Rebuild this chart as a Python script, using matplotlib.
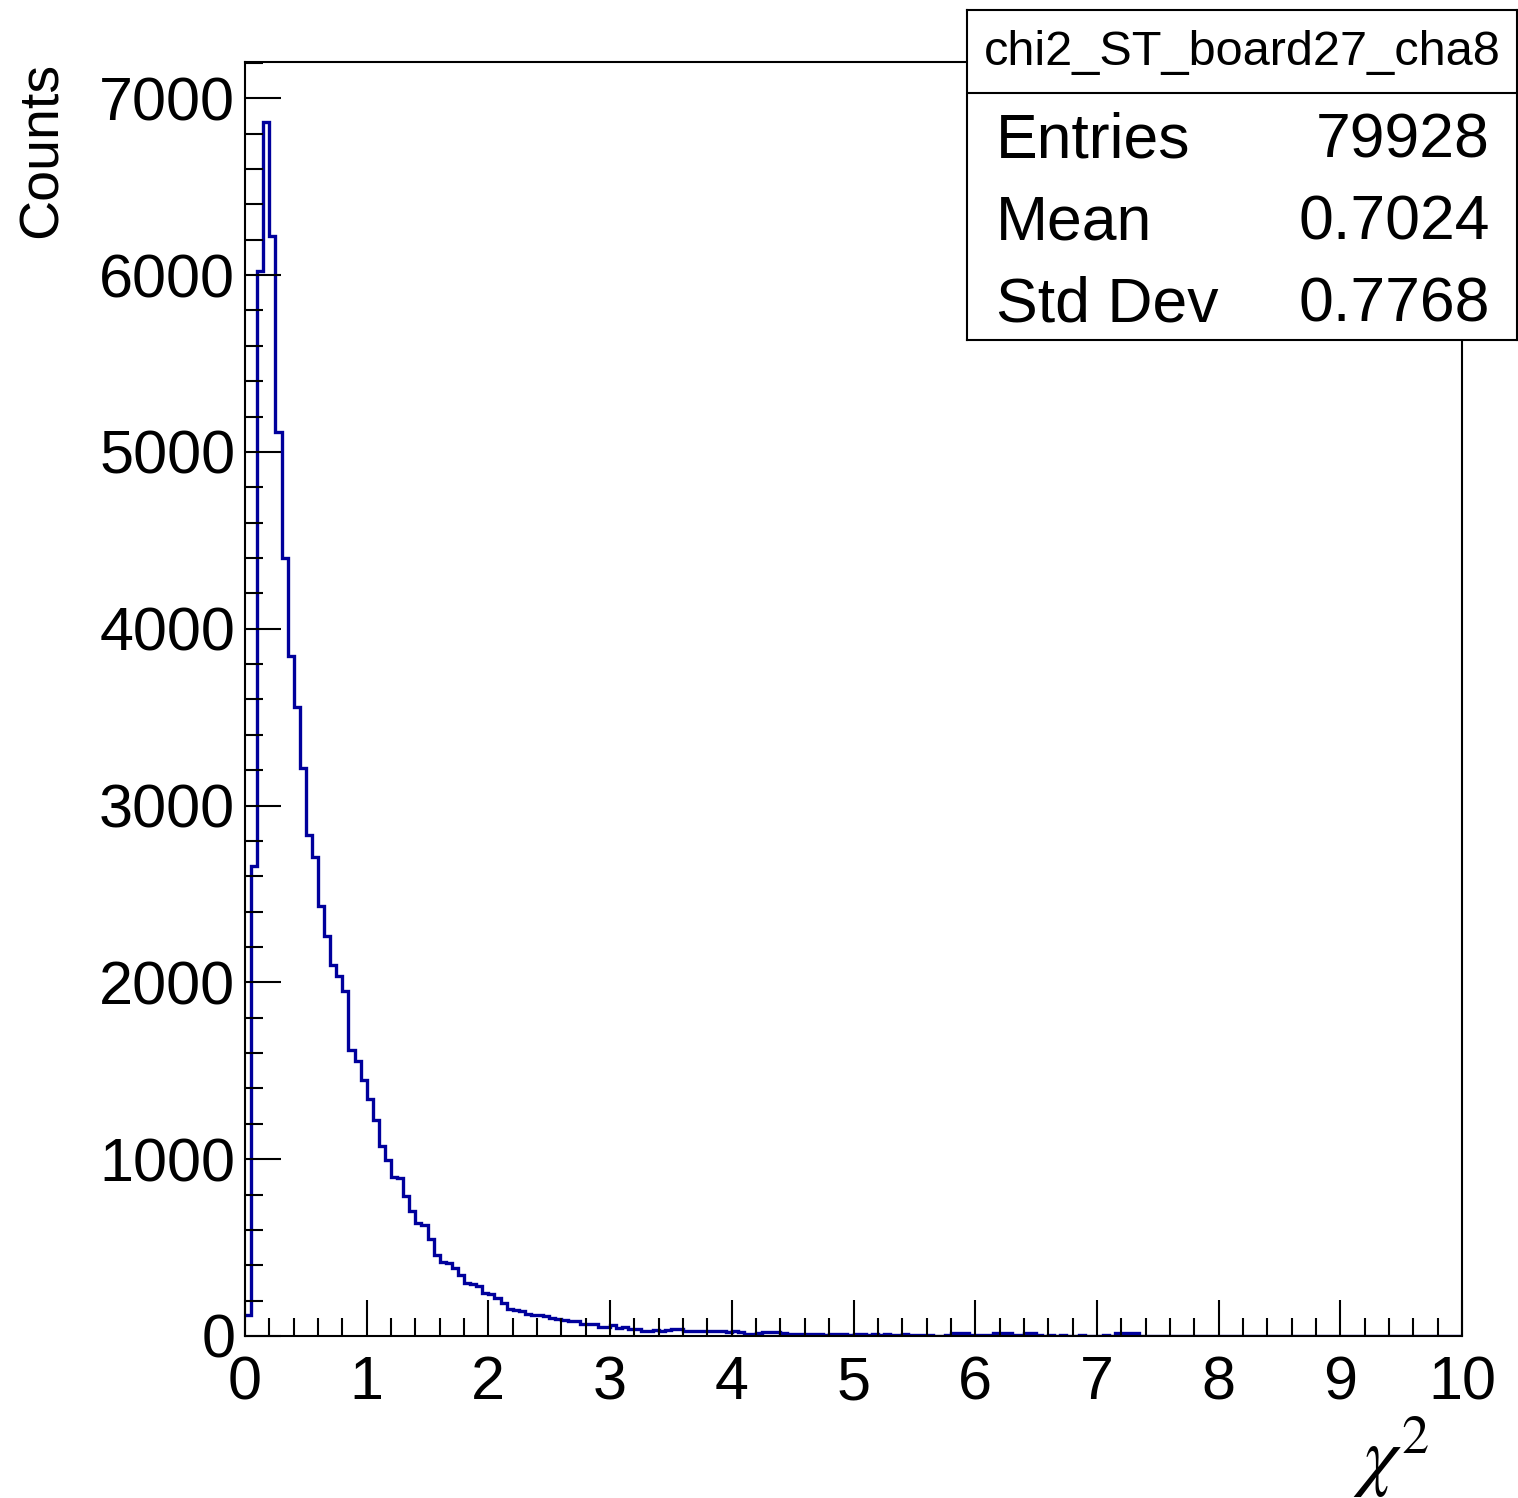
import numpy as np
import matplotlib
matplotlib.use("Agg")
import matplotlib.pyplot as plt
from matplotlib.ticker import MultipleLocator

plt.rcParams['font.family'] = ['Liberation Sans', 'DejaVu Sans']
plt.rcParams['mathtext.fontset'] = 'stix'

# histogram chi2_ST_board27_cha8 : 200 bins from 0 to 10
x_min = 0.0
x_max = 10.0
counts = [
    119, 2656, 6024, 6864, 6222, 5115, 4398, 3845, 3559, 3213,
    2832, 2709, 2430, 2264, 2100, 2034, 1949, 1619, 1553, 1449,
    1342, 1223, 1077, 996, 902, 895, 789, 709, 641, 628,
    547, 458, 421, 415, 383, 345, 298, 295, 283, 242,
    240, 213, 185, 152, 148, 142, 122, 119, 117, 114,
    102, 97, 88, 86, 83, 70, 68, 66, 53, 50,
    60, 46, 50, 38, 38, 27, 27, 36, 31, 36,
    40, 38, 30, 30, 31, 29, 27, 29, 27, 25,
    26, 24, 14, 13, 15, 24, 21, 23, 19, 12,
    10, 11, 9, 10, 12, 8, 10, 9, 11, 8,
    10, 9, 7, 10, 8, 9, 7, 8, 10, 6,
    8, 7, 6, 0, 0, 4, 16, 18, 15, 4,
    4, 6, 3, 17, 19, 16, 5, 5, 18, 19,
    3, 2, 4, 2, 3, 1, 2, 3, 2, 1,
    2, 3, 2, 18, 19, 18, 16, 2, 1, 0,
    2, 1, 0, 1, 2, 0, 1, 0, 0, 1,
    0, 2, 0, 1, 0, 0, 1, 0, 0, 0,
    1, 0, 0, 0, 1, 0, 0, 0, 0, 1,
    0, 0, 0, 0, 0, 1, 0, 0, 0, 0,
    0, 0, 1, 0, 0, 0, 0, 0, 0, 0,
]
hist_name = "chi2_ST_board27_cha8"
stat_labels = ["Entries", "Mean", "Std Dev"]
stat_values = ["79928", "0.7024", "0.7768"]

W, H = 1518, 1498
fig = plt.figure(figsize=(W / 100, H / 100), dpi=100)
ax = fig.add_axes([245 / W, 1 - 1336 / H, (1462 - 245) / W, (1336 - 62) / H])

edges = np.linspace(x_min, x_max, len(counts) + 1)
ax.stairs(counts, edges, color='#00009c', lw=2.4, baseline=None)

ax.set_xlim(x_min, x_max)
ax.set_ylim(0, 7205)
ax.xaxis.set_major_locator(MultipleLocator(1))
ax.xaxis.set_minor_locator(MultipleLocator(0.2))
ax.yaxis.set_major_locator(MultipleLocator(1000))
ax.yaxis.set_minor_locator(MultipleLocator(200))
ax.tick_params(which='both', direction='in', width=1.5, colors='black')
ax.tick_params(which='major', length=26)
ax.tick_params(which='minor', length=13)
ax.tick_params(axis='x', which='major', labelsize=44, pad=14)
ax.tick_params(axis='y', which='major', labelsize=44, pad=7)
for s in ax.spines.values():
    s.set_linewidth(1.5)

fig.text(43 / W, 1 - 62 / H, "Counts", rotation=90, ha='center', va='top', fontsize=40)
fig.text(1430 / W, 1 - 1482 / H, r"$\chi^{2}$", ha='right', va='baseline', fontsize=56)

# stats box
bx0, by0, bx1, by1 = 967, 10, 1517, 340
sb = fig.add_axes([bx0 / W, 1 - by1 / H, (bx1 - bx0) / W, (by1 - by0) / H])
sb.set_xlim(bx0, bx1)
sb.set_ylim(by1, by0)
sb.set_xticks([])
sb.set_yticks([])
for s in sb.spines.values():
    s.set_linewidth(1.5)
sb.axhline(93, color='black', lw=1.5)
sb.text((bx0 + bx1) / 2, 52, hist_name, ha='center', va='center', fontsize=35)
for i, (lab, val) in enumerate(zip(stat_labels, stat_values)):
    yb = 158 + i * 82
    sb.text(996, yb, lab, ha='left', va='baseline', fontsize=45)
    sb.text(1490, yb, val, ha='right', va='baseline', fontsize=45)

fig.savefig("out.png", dpi=100)
